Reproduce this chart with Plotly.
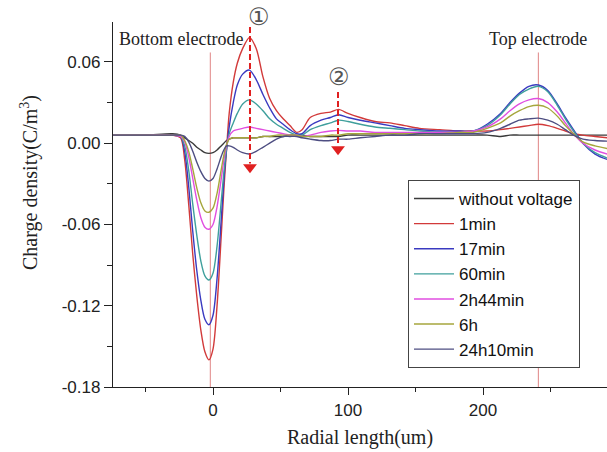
import plotly.graph_objects as go

# ---------------- data ----------------
radial = [-74, -50, -30, -24, -21, -18, -15, -12, -9, -6, -3, 0, 3, 6, 8, 10, 12, 15, 18, 22,
          27, 32, 37, 42, 47, 52, 57, 62, 66, 72, 80, 87, 93, 100, 109, 120, 131, 142, 153, 168,
          183, 193, 203, 213, 220, 227, 234, 241, 248, 255, 261, 267, 274, 283, 292]

without_voltage = [0.006, 0.006, 0.007, 0.006, 0.004, 0.002, 0.000, -0.003, -0.005, -0.007,
                   -0.0075, -0.007, -0.005, -0.002, 0.000, 0.002, 0.003, 0.004, 0.004, 0.004,
                   0.004, 0.004, 0.005, 0.005, 0.005, 0.005, 0.006, 0.006, 0.006, 0.005,
                   0.005, 0.005, 0.005, 0.006, 0.006, 0.006, 0.006, 0.006, 0.006, 0.006,
                   0.006, 0.006, 0.006, 0.005, 0.006, 0.006, 0.006, 0.006, 0.006, 0.006,
                   0.006, 0.006, 0.006, 0.006, 0.006]

min1 = [0.006, 0.006, 0.006, 0.004, -0.012, -0.045, -0.082, -0.113, -0.138, -0.154,
        -0.160, -0.152, -0.120, -0.070, -0.035, -0.005, 0.022, 0.045, 0.059, 0.070,
        0.078, 0.070, 0.049, 0.033, 0.024, 0.018, 0.013, 0.008, 0.010, 0.019,
        0.022, 0.023, 0.025, 0.022, 0.019, 0.016, 0.015, 0.013, 0.011, 0.010,
        0.009, 0.009, 0.009, 0.010, 0.011, 0.012, 0.013, 0.014, 0.013, 0.011,
        0.009, 0.007, 0.006, 0.005, 0.004]

min17 = [0.006, 0.006, 0.006, 0.005, -0.006, -0.032, -0.065, -0.094, -0.116, -0.130,
         -0.134, -0.127, -0.100, -0.058, -0.028, -0.005, 0.012, 0.030, 0.043, 0.051,
         0.054, 0.047, 0.036, 0.026, 0.018, 0.014, 0.010, 0.007, 0.007, 0.013,
         0.017, 0.019, 0.021, 0.019, 0.017, 0.015, 0.013, 0.011, 0.010, 0.009,
         0.009, 0.009, 0.014, 0.022, 0.030, 0.037, 0.042, 0.043, 0.039, 0.029,
         0.019, 0.010, 0.000, -0.008, -0.012]

min60 = [0.006, 0.006, 0.006, 0.005, -0.002, -0.020, -0.045, -0.068, -0.087, -0.098,
         -0.101, -0.096, -0.076, -0.044, -0.022, -0.004, 0.007, 0.015, 0.022, 0.029,
         0.032, 0.029, 0.024, 0.018, 0.014, 0.011, 0.008, 0.006, 0.006, 0.010,
         0.013, 0.015, 0.017, 0.016, 0.014, 0.012, 0.011, 0.010, 0.009, 0.008,
         0.008, 0.009, 0.013, 0.021, 0.029, 0.036, 0.040, 0.042, 0.038, 0.028,
         0.018, 0.009, 0.000, -0.007, -0.011]

h2m44 = [0.006, 0.006, 0.006, 0.005, 0.001, -0.010, -0.026, -0.042, -0.055, -0.062,
         -0.0635, -0.060, -0.047, -0.027, -0.013, -0.002, 0.005, 0.009, 0.010, 0.011,
         0.012, 0.011, 0.010, 0.009, 0.008, 0.007, 0.006, 0.006, 0.005, 0.006,
         0.008, 0.009, 0.0095, 0.009, 0.009, 0.008, 0.008, 0.008, 0.008, 0.008,
         0.008, 0.009, 0.012, 0.018, 0.024, 0.029, 0.032, 0.033, 0.030, 0.023,
         0.015, 0.007, 0.000, -0.005, -0.008]

h6 = [0.006, 0.006, 0.006, 0.006, 0.002, -0.006, -0.019, -0.033, -0.044, -0.050,
      -0.051, -0.048, -0.037, -0.020, -0.009, -0.001, 0.003, 0.004, 0.004, 0.004,
      0.004, 0.004, 0.005, 0.005, 0.006, 0.006, 0.006, 0.006, 0.005, 0.005,
      0.005, 0.006, 0.006, 0.007, 0.007, 0.007, 0.007, 0.007, 0.007, 0.007,
      0.008, 0.008, 0.011, 0.015, 0.020, 0.024, 0.027, 0.028, 0.026, 0.020,
      0.013, 0.007, 0.001, -0.002, -0.004]

h24m10 = [0.006, 0.006, 0.006, 0.006, 0.005, 0.001, -0.006, -0.014, -0.021, -0.026,
          -0.028, -0.026, -0.019, -0.010, -0.005, -0.002, -0.002, -0.003, -0.005, -0.007,
          -0.008, -0.006, -0.003, 0.000, 0.003, 0.005, 0.005, 0.005, 0.004, 0.003,
          0.002, 0.002, 0.003, 0.003, 0.004, 0.005, 0.006, 0.006, 0.007, 0.007,
          0.007, 0.007, 0.008, 0.011, 0.014, 0.017, 0.018, 0.0185, 0.017, 0.014,
          0.010, 0.006, 0.003, 0.002, 0.0015]

series_names = ["without voltage", "1min", "17min", "60min", "2h44min", "6h", "24h10min"]
series_values = [without_voltage, min1, min17, min60, h2m44, h6, h24m10]
series_colors = ["#3a3a3a", "#d23a3a", "#3a3ac0", "#3f9f9c", "#e04ee0", "#a6a63c", "#4e4e82"]

y_tickvals = [-0.18, -0.12, -0.06, 0.00, 0.06]
y_ticktext = ["-0.18", "-0.12", "-0.06", "0.00", "0.06"]
x_tickvals = [0, 100, 200]
x_ticktext = ["0", "100", "200"]

electrode_positions = [-2, 241]
arrow_x = [27.4, 92.6]
arrow_top = [0.0859, 0.0379]
arrow_tip = [-0.022, -0.0087]

# ---------------- figure ----------------
fig = go.Figure()
for name, vals, col in zip(series_names, series_values, series_colors):
    fig.add_trace(go.Scatter(x=radial, y=vals, mode="lines", name=name,
                             line=dict(color=col, width=1.4, shape="spline", smoothing=0.8)))

shapes = []
for xe in electrode_positions:
    shapes.append(dict(type="line", xref="x", yref="y", x0=xe, x1=xe, y0=-0.18, y1=0.067,
                       line=dict(color="#e08585", width=1), layer="below"))
for ax_, top_, tip_ in zip(arrow_x, arrow_top, arrow_tip):
    shapes.append(dict(type="line", xref="x", yref="y", x0=ax_, x1=ax_,
                       y0=top_, y1=tip_ + 0.007,
                       line=dict(color="#e02020", width=2, dash="6px,3px")))

# arrow heads: triangle markers whose tip sits at the arrow end (offset ~5px)
fig.add_trace(go.Scatter(x=arrow_x, y=[t + 0.0042 for t in arrow_tip], mode="markers",
                         marker=dict(symbol="triangle-down", size=12, color="#e02020",
                                     line=dict(width=0)),
                         showlegend=False, hoverinfo="skip"))

serif = "Liberation Serif, Times New Roman, serif"
sans = "Liberation Sans, Arial, sans-serif"

annotations = [
    dict(text="Charge density(C/m<sup>3</sup>)", xref="paper", yref="paper",
         x=-0.168, y=0.559, textangle=-90, showarrow=False,
         font=dict(family=serif, size=20, color="#222"), xanchor="center", yanchor="middle"),
    dict(text="Radial length(um)", xref="paper", yref="paper", x=0.5, y=-0.137,
         showarrow=False, font=dict(family=serif, size=20, color="#222"),
         xanchor="center", yanchor="middle"),
    dict(text="Bottom electrode", xref="paper", yref="paper", x=0.008, y=0.953,
         showarrow=False, font=dict(family=serif, size=18, color="#222"),
         xanchor="left", yanchor="middle"),
    dict(text="Top electrode", xref="paper", yref="paper", x=0.860, y=0.953,
         showarrow=False, font=dict(family=serif, size=18, color="#222"),
         xanchor="center", yanchor="middle"),
    dict(text="①", xref="paper", yref="paper", x=(259 - 113) / 494, y=1.013,
         showarrow=False, font=dict(family="DejaVu Sans", size=24, color="#555"),
         xanchor="center", yanchor="middle"),
    dict(text="②", xref="paper", yref="paper", x=(339 - 113) / 494, y=0.849,
         showarrow=False, font=dict(family="DejaVu Sans", size=24, color="#555"),
         xanchor="center", yanchor="middle"),
]

fig.update_layout(
    width=607, height=452,
    margin=dict(l=113, r=0, t=22, b=65),
    paper_bgcolor="white", plot_bgcolor="white",
    shapes=shapes, annotations=annotations,
    legend=dict(x=(408 - 113) / 494, y=(387 - 180) / 365, xanchor="left", yanchor="top",
                bordercolor="#444", borderwidth=1, bgcolor="white",
                font=dict(family=sans, size=17, color="#111"),
                itemwidth=40, tracegroupgap=0),
    xaxis=dict(range=[-74.07, 291.85], showgrid=False, zeroline=False,
               showline=True, linecolor="#222", linewidth=1.3,
               ticks="outside", ticklen=7, tickwidth=1.3, tickcolor="#222",
               tickvals=x_tickvals, ticktext=x_ticktext,
               tickfont=dict(family=sans, size=17, color="#222"),
               minor=dict(tickmode="linear", tick0=0, dtick=50, ticks="outside",
                          ticklen=4, tickwidth=1.3, tickcolor="#222")),
    yaxis=dict(range=[-0.18, 0.0895], showgrid=False, zeroline=False,
               showline=True, linecolor="#222", linewidth=1.3,
               ticks="outside", ticklen=8, tickwidth=1.3, tickcolor="#222",
               tickvals=y_tickvals, ticktext=y_ticktext,
               tickfont=dict(family=sans, size=17, color="#222"),
               minor=dict(tickmode="linear", tick0=0, dtick=0.03, ticks="outside",
                          ticklen=5, tickwidth=1.3, tickcolor="#222")),
)

fig.write_html("out.html")
